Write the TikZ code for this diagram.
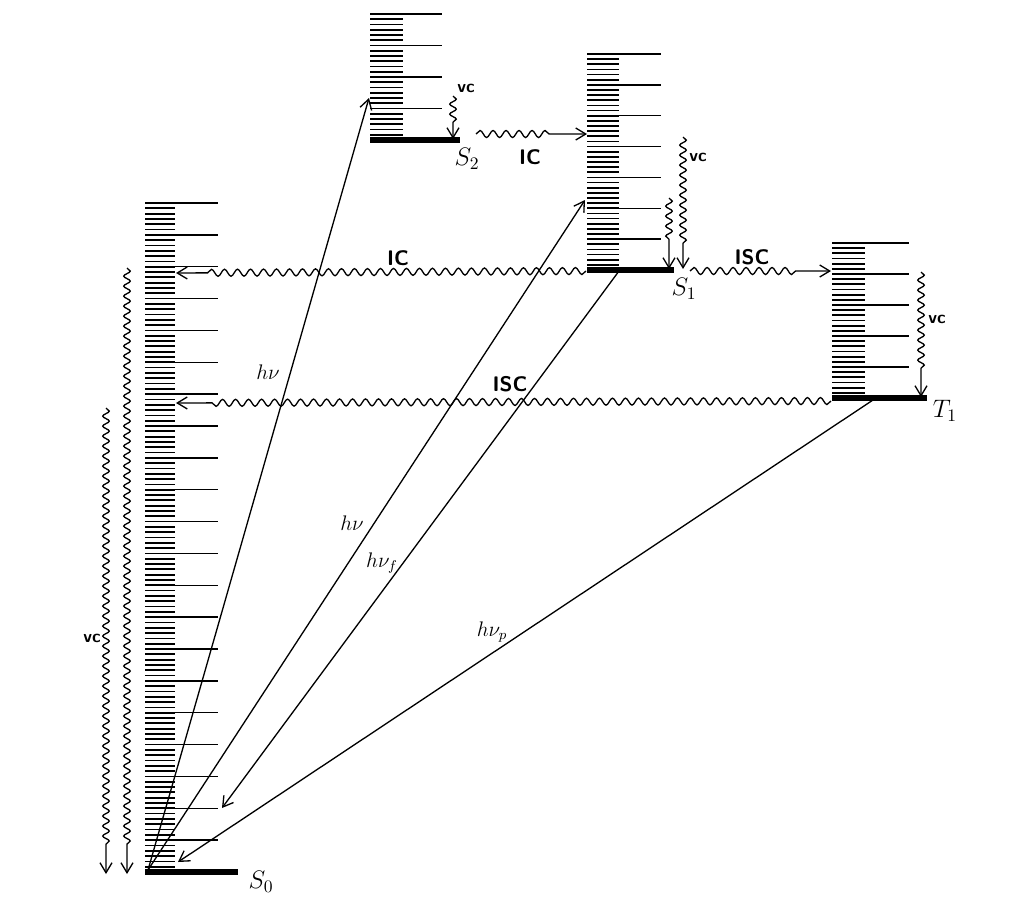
\documentclass[tikz,border=0pt]{standalone}
\usepackage{amsmath}
\usetikzlibrary{arrows.meta,decorations.pathmorphing}

\begin{document}
\begin{tikzpicture}[x=0.02cm, y=-0.02cm,
				>={Straight Barb[length=2mm,width=2.4mm]},   %open arrow tips
				line width=0.75pt,
				wavy/.style={decorate, decoration={snake, segment length=2mm, amplitude=0.65mm, post length=#1}},
				wavy/.default=5mm,
				hwavy/.style={wavy=#1, decoration={segment length=2.6mm, amplitude=0.7mm}},
				lvl/.style={line width=0.75pt},
				hatch/.style={line width=1pt},
				ground/.style={line width=3.4pt},
				proc/.style={font=\sffamily\bfseries\large},
				vcl/.style={font=\sffamily\bfseries},
				state/.style={font=\Large}]
				\useasboundingbox (0,0) rectangle (1024,900);
				% Schwingungsniveaus: links, oben, Grundniveau, Anzahl, kurz, lang, Grundlinie
				\foreach \lx/\ty/\gy/\n/\sr/\lr/\gr in {145/203/872/21/175/218/238, 370/14/140/4/403/442/460, 587/54/270/7/619/661/674, 832/243/398/5/865/909/927}{
					\pgfmathsetmacro\dy{(\gy-\ty)/\n}
					\pgfmathtruncatemacro\m{6*\n}
					\foreach \k in {1,...,\m} \draw[hatch] (\lx,\gy-\k*\dy/6) -- (\sr,\gy-\k*\dy/6);
					\foreach \j in {1,...,\n} \draw[lvl] (\lx,\gy-\j*\dy) -- (\lr,\gy-\j*\dy);
					\draw[ground] (\lx,\gy) -- (\gr,\gy);
				}
				% Zustaende
				\node[state] (S0) at (261,882) {$S_0$};
				\node[state] (S2) at (467,159) {$S_2$};
				\node[state] (S1) at (684,289) {$S_1$};
				\node[state] (T1) at (945,411) {$T_1$};
				% Endpunkte
				\coordinate (s0) at (148,870);
				\coordinate (s2v) at (369,98);
				\coordinate (s1v) at (585,200);
				\coordinate (s1f) at (619,271);
				\coordinate (s0f) at (222,808);
				\coordinate (t1p) at (873,400);
				\coordinate (s0p) at (178,862);
				\coordinate (ic21a) at (476,134);
				\coordinate (ic21b) at (587,134);
				\coordinate (s1) at (586,271);
				\coordinate (ic10b) at (176,273);
				\coordinate (isc1a) at (690,271);
				\coordinate (isc1b) at (831,271);
				\coordinate (t1) at (831,401);
				\coordinate (isc0b) at (176,403);
				\coordinate (vc2a) at (453,96);
				\coordinate (vc2b) at (453,139);
				\coordinate (vc1a) at (669,198);
				\coordinate (vc1b) at (669,269);
				\coordinate (vc1c) at (683,137);
				\coordinate (vc1d) at (683,269);
				\coordinate (vcta) at (921,272);
				\coordinate (vctb) at (921,397);
				\coordinate (vc0a) at (127,268);
				\coordinate (vc0b) at (127,874);
				\coordinate (vc0c) at (106,408);
				\coordinate (vc0d) at (106,874);
				% Absorption und Emission
				\draw[->] (s0) -- (s2v);
				\draw[->] (s0) -- (s1v);
				\draw[->] (s1f) -- (s0f);
				\draw[->] (t1p) -- (s0p);
				\node[font=\large] (hv2) at (268,372) {$h\nu$};
				\node[font=\large] (hv1) at (352,523) {$h\nu$};
				\node[font=\large] (hvf) at (382,563) {$h\nu_f$};
				\node[font=\large] (hvp) at (492,632) {$h\nu_p$};
				% strahlungslose Uebergaenge
				\draw[->, hwavy=7mm] (ic21a) -- (ic21b);
				\draw[->, hwavy=6mm] (s1) -- (ic10b);
				\draw[->, hwavy=6mm] (isc1a) -- (isc1b);
				\draw[->, hwavy=6mm] (t1) -- (isc0b);
				\node[proc] (ic1) at (530,157) {IC};
				\node[proc] (ic2) at (398,258) {IC};
				\node[proc] (isc1) at (752,257) {ISC};
				\node[proc] (isc2) at (510,384) {ISC};
				% Schwingungsrelaxation
				\draw[->, wavy=3mm] (vc2a) -- (vc2b);
				\draw[->, wavy] (vc1a) -- (vc1b);
				\draw[->, wavy] (vc1c) -- (vc1d);
				\draw[->, wavy] (vcta) -- (vctb);
				\draw[->, wavy] (vc0a) -- (vc0b);
				\draw[->, wavy] (vc0c) -- (vc0d);
				\node[vcl] (vc2) at (466,88) {vc};
				\node[vcl] (vc1) at (698,157) {vc};
				\node[vcl] (vct) at (937,319) {vc};
				\node[vcl] (vc0) at (92,638) {vc};
			\end{tikzpicture}
\end{document}
